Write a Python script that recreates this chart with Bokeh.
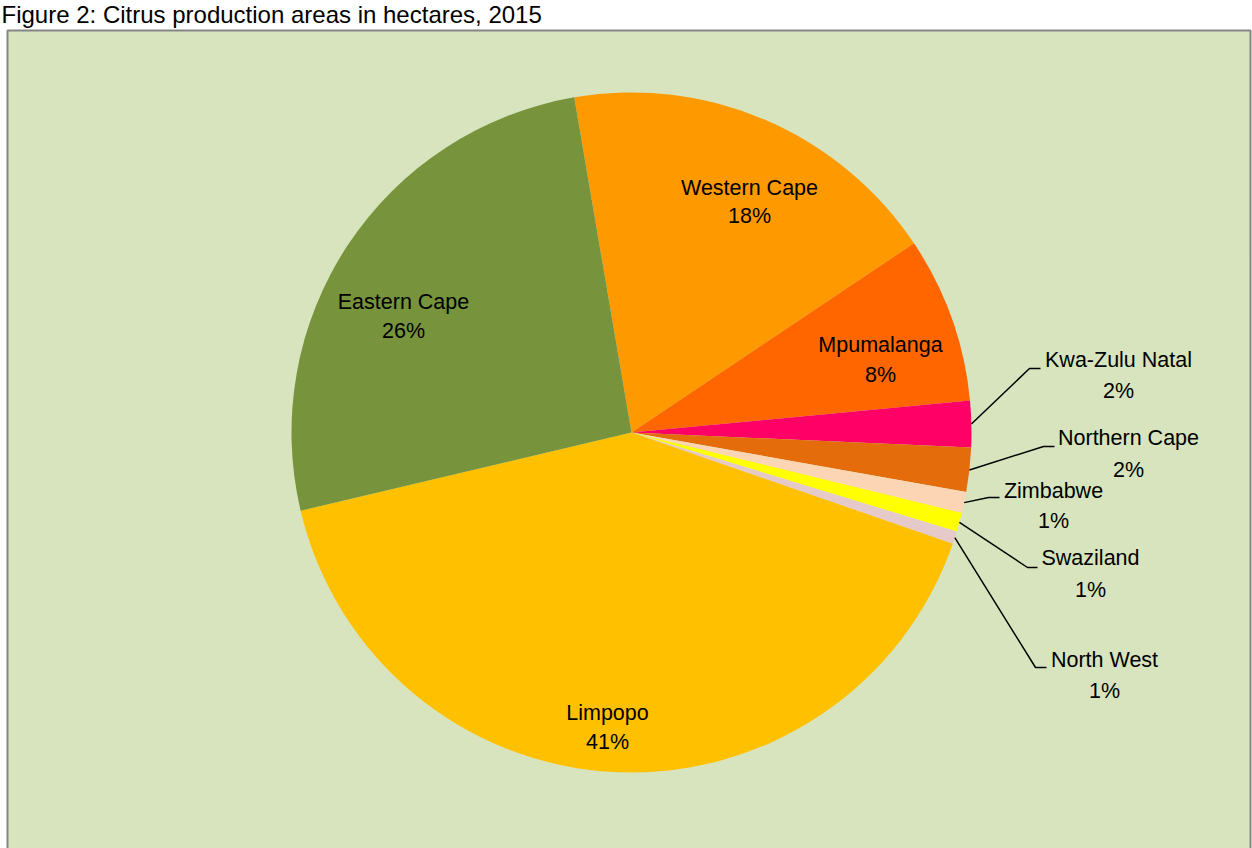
import math
from bokeh.plotting import figure
from bokeh.models import Range1d, ColumnDataSource
from bokeh.core.properties import value
from bokeh.embed import file_html
from bokeh.resources import INLINE

# ---------------- data ----------------
title_text = "Figure 2: Citrus production areas in hectares, 2015"
regions = ["Western Cape", "Mpumalanga", "Kwa-Zulu Natal", "Northern Cape",
           "Zimbabwe", "Swaziland", "North West", "Limpopo", "Eastern Cape"]
shares = [18.3, 7.9, 2.2, 2.1, 1.0, 0.9, 0.6, 41.0, 26.0]

# ---------------- style ----------------
colors = ["#FF9900", "#FF6600", "#FF0066", "#E46C0A", "#FCD5B5",
          "#FFFF00", "#E6C9C9", "#FFC000", "#77933C"]
bg_green = "#D7E4BD"
border_gray = "#868686"
label_font = "Liberation Sans"
label_size = "21.5px"
first_slice_angle = -9.7          # degrees clockwise from 12 o'clock
cx, cy, r = 631, 432, 340          # page-pixel layout of the pie
text_shift = 8                     # baseline correction for svg text

# label layout: region -> (text centre x, first-line baseline y, second-line baseline y, elbow)
label_layout = {
    "Western Cape":   (749, 195, 223, None),
    "Mpumalanga":     (880, 352, 382, None),
    "Kwa-Zulu Natal": (1118, 367, 398, (1029, 368, 1040)),
    "Northern Cape":  (1128, 445, 477, (1043, 446, 1054)),
    "Zimbabwe":       (1053, 498, 528, (988, 497, 999)),
    "Swaziland":      (1090, 565, 597, (1027, 567, 1037)),
    "North West":     (1104, 667, 698, (1035, 667, 1046)),
    "Limpopo":        (607, 720, 749, None),
    "Eastern Cape":   (403, 309, 338, None),
}

W, H = 1252, 848
p = figure(width=W, height=H, output_backend="svg", toolbar_location=None,
           x_range=Range1d(0, W), y_range=Range1d(-H, 0),
           min_border=0)
p.axis.visible = False
p.grid.visible = False
p.outline_line_color = None
p.background_fill_color = "white"
p.border_fill_color = "white"

# chart area box
p.quad(left=[7], right=[1250], top=[-30], bottom=[-H - 5],
       fill_color=bg_green, line_color=border_gray, line_width=2)

# title
p.text(x=[1], y=[-22 + text_shift], text=[title_text], text_font=value("Liberation Sans"),
       text_font_size="24px", text_color="black", text_baseline="alphabetic",
       text_align="left")

# wedges
total = sum(shares)
starts, ends, mids = [], [], []
cum = 0.0
base = math.radians(90 - first_slice_angle)
for s in shares:
    a0 = base - 2 * math.pi * cum / total
    cum += s
    a1 = base - 2 * math.pi * cum / total
    starts.append(a0)
    ends.append(a1)
    mids.append((a0 + a1) / 2)

src = ColumnDataSource(dict(start=starts, end=ends, color=colors, name=regions))
p.wedge(x=cx, y=-cy, radius=r, start_angle="start", end_angle="end",
        direction="clock", fill_color="color", line_color=None, source=src)

# labels
pcts = [f"{int(math.floor(s / total * 100 + 0.5))}%" for s in shares]
nx, ny, px_, py, lxs, lys = [], [], [], [], [], []
for name, pct, m in zip(regions, pcts, mids):
    tx, b1, b2, elbow = label_layout[name]
    nx.append(tx); ny.append(-b1 + text_shift)
    px_.append(tx); py.append(-b2 + text_shift)
    if elbow is not None:
        ex, ey, hx = elbow
        sx = cx + r * math.cos(m)
        sy = cy - r * math.sin(m)
        lxs.append([sx, ex, hx])
        lys.append([-sy, -ey, -ey])

p.multi_line(xs=lxs, ys=lys, line_color="black", line_width=1.5)
p.text(x=nx, y=ny, text=regions, text_font=value(label_font),
       text_font_size=label_size, text_color="black",
       text_align="center", text_baseline="alphabetic")
p.text(x=px_, y=py, text=pcts, text_font=value(label_font),
       text_font_size=label_size, text_color="black",
       text_align="center", text_baseline="alphabetic")

open("out.html", "w").write(file_html(p, INLINE))
